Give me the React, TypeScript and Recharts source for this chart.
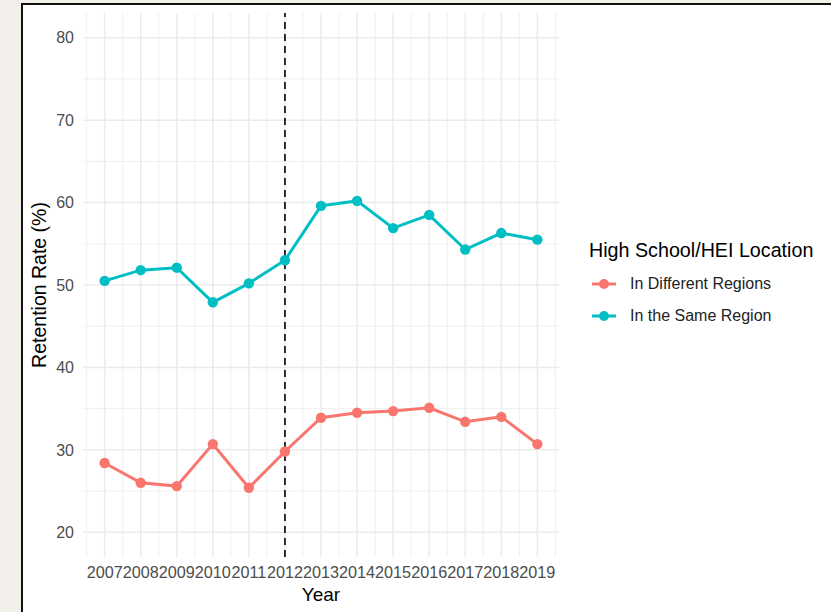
import { CartesianGrid, Line, LineChart, ReferenceLine, XAxis, YAxis } from "recharts";

const years = [2007, 2008, 2009, 2010, 2011, 2012, 2013, 2014, 2015, 2016, 2017, 2018, 2019];
const differentRegions = [28.4, 26.0, 25.6, 30.7, 25.4, 29.8, 33.9, 34.5, 34.7, 35.1, 33.4, 34.0, 30.7];
const sameRegion = [50.5, 51.8, 52.1, 47.9, 50.2, 53.0, 59.6, 60.2, 56.9, 58.5, 54.3, 56.3, 55.5];
const yTicks = [20, 30, 40, 50, 60, 70, 80];
const yMinor = [25, 35, 45, 55, 65, 75];
const xMinor = [2006.5, 2007.5, 2008.5, 2009.5, 2010.5, 2011.5, 2012.5, 2013.5, 2014.5, 2015.5, 2016.5, 2017.5, 2018.5, 2019.5];
const seriesNames = ["In Different Regions", "In the Same Region"];
const seriesColors = ["#F8766D", "#00BFC4"];
const policyYear = 2012;

const data = years.map((year, i) => ({ year, different: differentRegions[i], same: sameRegion[i] }));

const font = '"Liberation Sans", Arial, Helvetica, sans-serif';

const LegendBox = () =>
    <div style={{ position: "absolute", left: 589, top: 236, fontFamily: font }}>
        <div style={{ fontSize: 19.7, color: "#000", lineHeight: "28px" }}>High School/HEI Location</div>
        {seriesNames.map((name, i) =>
            <div key={name} style={{ display: "flex", alignItems: "center", height: 32, marginTop: i === 0 ? 4 : 0 }}>
                <svg width={36} height={32}>
                    <line x1={3} x2={27} y1={16} y2={16} stroke={seriesColors[i]} strokeWidth={3} />
                    <circle cx={15} cy={16} r={5} fill={seriesColors[i]} />
                </svg>
                <span style={{ fontSize: 16, color: "#222", marginLeft: 5 }}>{name}</span>
            </div>
        )}
    </div>

export default function App() {
    return (
        <div style={{ position: "absolute", left: 0, top: 0, width: 831, height: 612, background: "#F3F0EC", overflow: "hidden" }}>
            <div style={{ position: "absolute", left: 21, top: 3, right: 0, bottom: 0, background: "#fff", borderLeft: "2px solid #111", borderTop: "2px solid #111" }} />
            <div style={{ position: "absolute", left: 0, top: 0 }}>
                <LineChart width={831} height={612} data={data} margin={{ top: 13, right: 272, bottom: 0, left: 0 }}
                    style={{ fontFamily: font }}>
                    <CartesianGrid horizontalValues={yMinor} verticalValues={xMinor} stroke="#EBEBEB" strokeWidth={0.8} />
                    <CartesianGrid horizontalValues={yTicks} verticalValues={years} stroke="#EBEBEB" strokeWidth={1.5} />
                    <XAxis dataKey="year" type="number" domain={[2006.4, 2019.6]} ticks={years} interval={0}
                        axisLine={false} tickLine={false} tickSize={0} tickMargin={9} height={55}
                        tick={{ fill: "#4D4D4D", fontSize: 16.2 }}
                        label={{ value: "Year", position: "insideBottom", offset: 11, fill: "#000", fontSize: 19 }} />
                    <YAxis type="number" domain={[17, 83]} ticks={yTicks} allowDataOverflow
                        axisLine={false} tickLine={false} tickSize={0} tickMargin={9} width={83}
                        tick={{ fill: "#4D4D4D", fontSize: 16 }} />
                    <ReferenceLine x={policyYear} stroke="#1a1a1a" strokeWidth={1.8} strokeDasharray="7 5" />
                    <Line dataKey="different" stroke={seriesColors[0]} strokeWidth={3} isAnimationActive={false}
                        dot={{ r: 5.2, fill: seriesColors[0], stroke: "none" }} activeDot={false} />
                    <Line dataKey="same" stroke={seriesColors[1]} strokeWidth={3} isAnimationActive={false}
                        dot={{ r: 5.2, fill: seriesColors[1], stroke: "none" }} activeDot={false} />
                    <text x={46} y={285} transform="rotate(-90 46 285)" textAnchor="middle" fontSize={19.5} fill="#000">
                        Retention Rate (%)
                    </text>
                </LineChart>
            </div>
            <LegendBox />
        </div>
    );
}
